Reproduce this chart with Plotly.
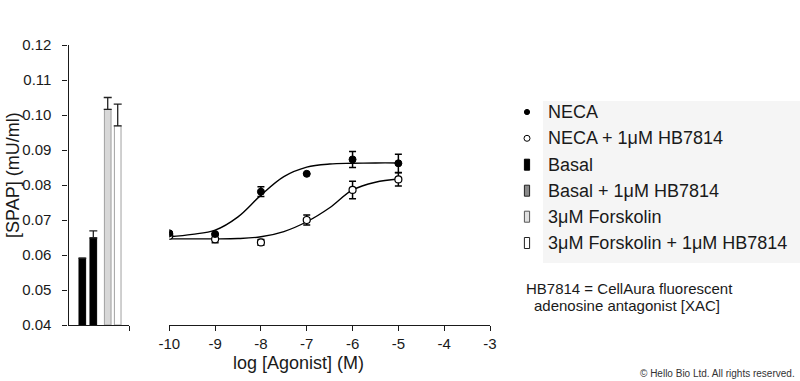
import plotly.graph_objects as go

# ---------------- data ----------------
log_conc = [-10, -9, -8, -7, -6, -5]
neca = [0.0662, 0.0660, 0.0781, 0.0832, 0.0873, 0.0862]
neca_err = [0.0004, 0.0, 0.0014, 0.0, 0.0023, 0.0026]
neca_hb = [0.0655, 0.0645, 0.0636, 0.0700, 0.0786, 0.0816]
neca_hb_err = [0.0004, 0.0010, 0.0008, 0.0014, 0.0025, 0.0019]

# fitted curves
fit_x = [-10, -9.5, -9, -8.5, -8, -7.5, -7, -6.5, -6, -5.5, -5]
neca_fit = [0.0652, 0.0659, 0.0671, 0.0709, 0.0771, 0.0824, 0.0851, 0.0860, 0.0862, 0.0863, 0.0863]
neca_hb_fit = [0.0646, 0.0646, 0.0646, 0.0647, 0.0652, 0.0667, 0.0695, 0.0735, 0.0786, 0.0808, 0.0817]

bar_labels = ["Basal", "Basal + 1μM HB7814", "3μM Forskolin", "3μM Forskolin + 1μM HB7814"]
bar_values = [0.0591, 0.0649, 0.1016, 0.0969]
bar_err = [0.0, 0.0020, 0.0034, 0.0062]

y_ticks = [0.04, 0.05, 0.06, 0.07, 0.08, 0.09, 0.10, 0.11, 0.12]
x_ticks = [-10, -9, -8, -7, -6, -5, -4, -3]
x_tick_labels = ["-10", "-9", "-8", "-7", "-6", "-5", "-4", "-3"]

legend_labels = ["NECA", "NECA + 1μM HB7814", "Basal", "Basal + 1μM HB7814",
                 "3μM Forskolin", "3μM Forskolin + 1μM HB7814"]

# ---------------- layout helpers ----------------
W, H = 800, 381
FONT = "Liberation Sans, Arial, sans-serif"
bar_pos = [1.37, 2.46, 3.89, 4.88]
bar_fill = ["#000000", "#000000", "#d8d8d8", "#ffffff"]
bar_edge = ["#000000", "#000000", "#a0a0a0", "#a0a0a0"]


def px(x):
    return x / W


def py(y):
    return 1 - y / H


def note(x, y, text, size, xanchor="left", **kw):
    fig.add_annotation(x=px(x), y=py(y), xref="paper", yref="paper", text=text,
                       xanchor=xanchor, yanchor="middle", showarrow=False,
                       font=dict(family=FONT, size=size, color=kw.pop("color", "#1a1a1a")), **kw)


fig = go.Figure()

# bars (left panel)
fig.add_trace(go.Bar(
    x=bar_pos, y=[v - 0.04 for v in bar_values], base=0.04, width=0.66,
    marker=dict(color=bar_fill, line=dict(color=bar_edge, width=1)),
    error_y=dict(type="data", symmetric=False, array=bar_err,
                 arrayminus=[0] * len(bar_err), color="#222222", thickness=1.3, width=4),
    xaxis="x", yaxis="y", showlegend=False, hoverinfo="skip",
))

# fitted curves
fig.add_trace(go.Scatter(x=fit_x, y=neca_fit, mode="lines", line=dict(color="black", width=1.4, shape="spline"),
                         xaxis="x2", yaxis="y2", showlegend=False))
fig.add_trace(go.Scatter(x=fit_x, y=neca_hb_fit, mode="lines", line=dict(color="black", width=1.4, shape="spline"),
                         xaxis="x2", yaxis="y2", showlegend=False))

# data points
fig.add_trace(go.Scatter(
    x=log_conc, y=neca_hb, mode="markers",
    marker=dict(symbol="circle", size=7, color="white", line=dict(color="black", width=1.2)),
    error_y=dict(type="data", array=neca_hb_err, color="black", thickness=1.5, width=3.5),
    xaxis="x2", yaxis="y2", showlegend=False))
fig.add_trace(go.Scatter(
    x=log_conc, y=neca, mode="markers",
    marker=dict(symbol="circle", size=7, color="black", line=dict(color="black", width=1)),
    error_y=dict(type="data", array=neca_err, color="black", thickness=1.5, width=3.5),
    xaxis="x2", yaxis="y2", showlegend=False))

ydom = [py(325), py(45)]
axis_common = dict(showline=True, linecolor="#1a1a1a", linewidth=1.2, ticks="outside",
                   tickcolor="#1a1a1a", ticklen=5, tickwidth=1.2, showgrid=False, zeroline=False,
                   automargin=False,
                   tickfont=dict(family=FONT, size=15, color="#1a1a1a"))

fig.update_layout(
    width=W, height=H,
    margin=dict(l=0, r=0, t=0, b=0, autoexpand=False),
    paper_bgcolor="white", plot_bgcolor="rgba(0,0,0,0)",
    xaxis=dict(domain=[px(68.5), px(129)], range=[0, 6], tickvals=[6], showticklabels=False,
               anchor="y", **axis_common),
    yaxis=dict(domain=ydom, range=[0.04, 0.12], tickvals=y_ticks, tickformat=".2f",
               anchor="x", ticklabelstandoff=8, **axis_common),
    xaxis2=dict(domain=[px(169.3), px(490)], range=[-10, -3], tickvals=x_ticks, ticktext=x_tick_labels,
                anchor="y2", **axis_common),
    yaxis2=dict(domain=ydom, range=[0.04, 0.12], visible=False, anchor="x2", automargin=False),
    showlegend=False,
)

# axis titles
note(13, 175, "[SPAP] (mU/ml)", 18, xanchor="center", textangle=-90)
note(298, 363, "log [Agonist] (M)", 18, xanchor="center")

# legend background
fig.add_shape(type="rect", xref="paper", yref="paper", x0=px(543), x1=px(800), y0=py(263), y1=py(101),
              fillcolor="#f5f5f5", line=dict(width=0), layer="below")

row_y = [112, 138.3, 164.7, 190.7, 216.7, 243]
for lab, ry in zip(legend_labels, row_y):
    note(546, ry, lab, 18)

# legend swatches
cx = 527
fig.add_shape(type="circle", xref="paper", yref="paper", x0=px(cx - 2.6), x1=px(cx + 2.6),
              y0=py(row_y[0] + 2.6), y1=py(row_y[0] - 2.6), fillcolor="black", line=dict(color="black", width=1))
fig.add_shape(type="circle", xref="paper", yref="paper", x0=px(cx - 3), x1=px(cx + 3),
              y0=py(row_y[1] + 3), y1=py(row_y[1] - 3), fillcolor="white", line=dict(color="black", width=1))
sw_fill = ["#000000", "#8a8a8a", "#e0e0e0", "#ffffff"]
sw_edge = ["#000000", "#222222", "#555555", "#222222"]
for i in range(4):
    ry = row_y[2 + i]
    fig.add_shape(type="rect", xref="paper", yref="paper", x0=px(cx - 2.6), x1=px(cx + 2.6),
                  y0=py(ry + 5.5), y1=py(ry - 5.5), fillcolor=sw_fill[i], line=dict(color=sw_edge[i], width=1))

# note
note(524, 288, "HB7814 = CellAura fluorescent", 15)
note(532, 305, "adenosine antagonist [XAC]", 15)
note(797, 373, "© Hello Bio Ltd. All rights reserved.", 10, xanchor="right", color="#333333")

fig.write_html("out.html", config={"displayModeBar": False},
               post_script="document.body.style.margin='0';document.body.style.overflow='hidden';")
